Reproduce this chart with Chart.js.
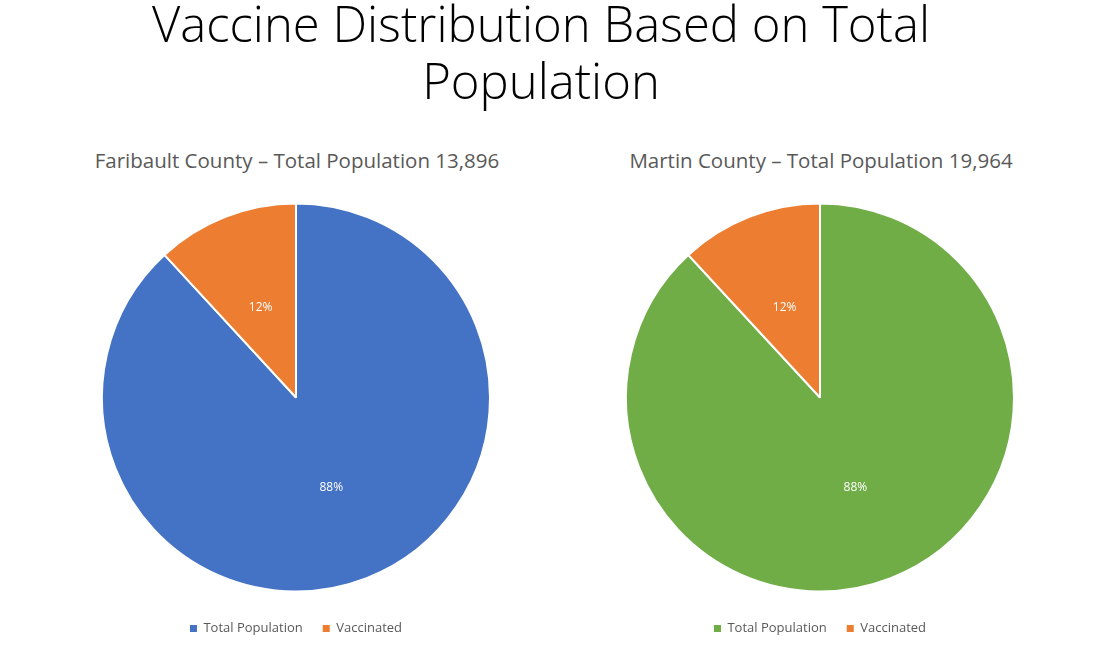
<!DOCTYPE html>
<html>
    <head>
        <title>Vaccine Distribution Based on Total Population</title>
        <meta charset="utf-8">
        <script src="https://cdn.jsdelivr.net/npm/chart.js@4.4.1/dist/chart.umd.min.js"></script>
        <style>
            body { margin: 0; width: 1110px; height: 650px; background: #fff; position: relative; overflow: hidden; font-family: 'Open Sans', sans-serif; }
            .main-title { position: absolute; left: 0; top: -5px; width: 1082px; text-align: center; font-size: 49px; font-weight: 300; line-height: 57px; color: #000; }
            .sub { position: absolute; top: 148px; width: 600px; text-align: center; font-size: 20.5px; line-height: 24px; color: #595959; }
            .box { position: absolute; top: 175px; width: 472px; height: 470px; }
        </style>
    </head>
    <body>
        <div class="main-title">Vaccine Distribution Based on Total<br>Population</div>
        <div class="sub" style="left:-3px">Faribault County – Total Population 13,896</div>
        <div class="sub" style="left:521px">Martin County – Total Population 19,964</div>
        <div class="box" style="left:60px"><canvas id="faribault"></canvas></div>
        <div class="box" style="left:584px"><canvas id="martin"></canvas></div>
        <script>
            // data (labels show share of each slice)
            var categories = ['Total Population', 'Vaccinated'];
            var faribaultValues = [13896, 1870];
            var martinValues = [19964, 2690];
            var faribaultColors = ['#4472C4', '#ED7D31'];
            var martinColors = ['#70AD47', '#ED7D31'];

            // percent text in the middle of each slice
            var pctLabels = {
                id: 'pctLabels',
                afterDatasetsDraw: function(chart) {
                    var ctx = chart.ctx;
                    var ds = chart.data.datasets[0];
                    var total = ds.data.reduce(function(a, b) { return a + b; }, 0);
                    ctx.save();
                    ctx.font = '12px "Open Sans"';
                    ctx.fillStyle = '#ffffff';
                    ctx.textAlign = 'center';
                    ctx.textBaseline = 'middle';
                    chart.getDatasetMeta(0).data.forEach(function(arc, i) {
                        var p = arc.getCenterPoint();
                        ctx.fillText(Math.round(ds.data[i] / total * 100) + '%', p.x, p.y);
                    });
                    ctx.restore();
                }
            };

            function makePie(id, values, colors) {
                return new Chart(document.getElementById(id), {
                    type: 'pie',
                    data: {
                        labels: categories,
                        datasets: [{
                            data: values,
                            backgroundColor: colors,
                            borderColor: '#ffffff',
                            borderWidth: 2,
                            radius: 194
                        }]
                    },
                    options: {
                        responsive: true,
                        maintainAspectRatio: false,
                        animation: false,
                        layout: { padding: { top: 18 } },
                        plugins: {
                            tooltip: { enabled: false },
                            legend: {
                                position: 'bottom',
                                labels: {
                                    boxWidth: 7,
                                    boxHeight: 7,
                                    padding: 20,
                                    color: '#595959',
                                    font: { family: 'Open Sans', size: 13 },
                                    generateLabels: function(chart) {
                                        return Chart.overrides.pie.plugins.legend.labels.generateLabels(chart).map(function(l) {
                                            l.lineWidth = 0;
                                            return l;
                                        });
                                    }
                                }
                            }
                        }
                    },
                    plugins: [pctLabels]
                });
            }

            makePie('faribault', faribaultValues, faribaultColors);
            makePie('martin', martinValues, martinColors);
        </script>
    </body>
</html>
